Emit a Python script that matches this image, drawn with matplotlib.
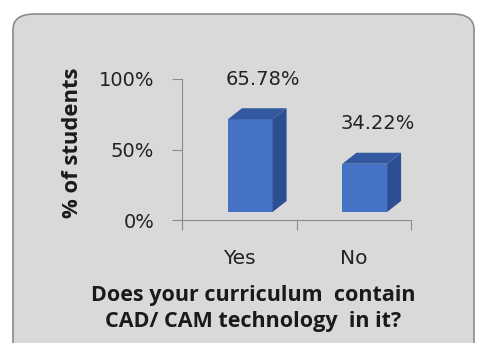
import matplotlib.pyplot as plt
from matplotlib.patches import FancyBboxPatch, Polygon

categories = ['Yes', 'No']
values = [65.78, 34.22]
value_labels = ['65.78%', '34.22%']
ytick_values = [0, 50, 100]
ytick_labels = ['0%', '50%', '100%']

front_color = '#4672c6'
side_color = '#2c4f93'
top_color = '#3258a0'

fig = plt.figure(figsize=(4.79, 3.43), dpi=100)
fig.patch.set_facecolor('white')

# rounded grey panel behind the chart
panel = FancyBboxPatch((13 / 479, -20 / 343), 461 / 479, 349 / 343,
                       boxstyle='round,pad=0,rounding_size=0.045',
                       transform=fig.transFigure, facecolor='#d9d9d9',
                       edgecolor='#8c8c8c', linewidth=1.2, zorder=-1)
fig.patches.append(panel)

ax = fig.add_axes([182 / 479, 123 / 343, 229 / 479, 141 / 343])
ax.set_zorder(2)
ax.set_facecolor('none')
ax.set_xlim(-0.5, 1.5)
ax.set_ylim(0, 100)

# pixel sizes of the fake 3D look, converted to data units
px_x = 2.0 / 229
px_y = 100.0 / 141
width = 0.39
off_x, off_y = 11 * px_x, 8 * px_y
dep_x, dep_y = 14 * px_x, 11 * px_y

for i, v in enumerate(values):
    x0 = i - width / 2 + off_x
    x1 = x0 + width
    y0 = off_y
    y1 = off_y + v
    ax.add_patch(Polygon([(x0, y0), (x1, y0), (x1, y1), (x0, y1)],
                         closed=True, facecolor=front_color, edgecolor='none',
                         clip_on=False, zorder=3))
    ax.add_patch(Polygon([(x1, y0), (x1 + dep_x, y0 + dep_y),
                          (x1 + dep_x, y1 + dep_y), (x1, y1)],
                         closed=True, facecolor=side_color, edgecolor='none',
                         clip_on=False, zorder=3))
    ax.add_patch(Polygon([(x0, y1), (x1, y1), (x1 + dep_x, y1 + dep_y),
                          (x0 + dep_x, y1 + dep_y)],
                         closed=True, facecolor=top_color, edgecolor='none',
                         clip_on=False, zorder=3))
    ax.text(i + 0.21, y1 + dep_y + 29 * px_y, value_labels[i], ha='center',
            va='center', fontsize=14, family='DejaVu Sans', color='#222222')

for side in ['top', 'right']:
    ax.spines[side].set_visible(False)
ax.spines['left'].set_color('#8c8c8c')
ax.spines['bottom'].set_color('#8c8c8c')

ax.set_yticks(ytick_values)
ax.set_yticklabels(ytick_labels, fontsize=14, color='#222222')
ax.tick_params(axis='y', direction='out', length=7, color='#8c8c8c', pad=13)

ax.set_xticks([-0.5, 0.5, 1.5])
ax.set_xticklabels([])
ax.set_xticks([0, 1], minor=True)
ax.set_xticklabels(categories, minor=True, fontsize=14.5, color='#222222')
ax.tick_params(axis='x', which='major', direction='out', length=7,
               color='#8c8c8c')
ax.tick_params(axis='x', which='minor', length=0, pad=21)

fig.text(72 / 479, (343 - 142.5) / 343, '% of students', rotation=90,
         ha='center', va='center', fontsize=15.8, fontweight='bold',
         family='Open Sans', color='#1a1a1a')

fig.text(253 / 479, 34.5 / 343, 'Does your curriculum  contain\nCAD/ CAM technology  in it?',
         ha='center', va='center', fontsize=15.5, fontweight='bold',
         family='Open Sans', linespacing=1.35, color='#1a1a1a')

fig.savefig('out.png', dpi=100)
